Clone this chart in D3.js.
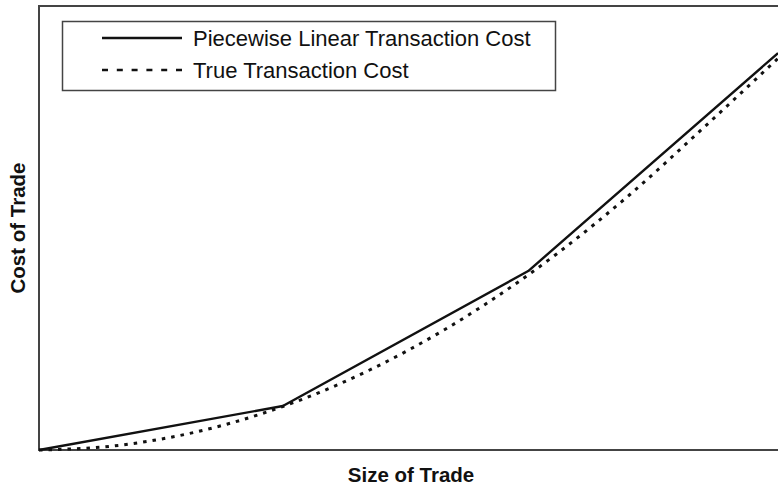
<!DOCTYPE html>
<html>
<head>
<meta charset="utf-8">
<script src="https://cdn.jsdelivr.net/npm/d3@7"></script>
<style>
  body { margin: 0; background: #fff; }
  svg { display: block; font-family: "Liberation Sans", Arial, sans-serif; }
</style>
</head>
<body>
<div id="chart"></div>
<script>
// Piecewise linear cost (kink points)
var linearSize = [0, 0.33, 0.662, 1.0];
var linearCost = [0, 0.099, 0.403, 0.894];

// True (convex) cost
var trueSize = [0, 0.1, 0.2, 0.3, 0.4, 0.5, 0.6, 0.7, 0.8, 0.9, 1.0];
var trueCost = [0, 0.009, 0.036, 0.081, 0.144, 0.225, 0.324, 0.441, 0.576, 0.727, 0.882];

var seriesNames = ["Piecewise Linear Transaction Cost", "True Transaction Cost"];

var width = 778, height = 485;
var plot = {left: 39, right: 778, top: 6, bottom: 450};

var svg = d3.select("#chart").append("svg")
    .attr("width", width)
    .attr("height", height);

var x = d3.scaleLinear().domain([0, 1]).range([plot.left, plot.right]);
var y = d3.scaleLinear().domain([0, 1]).range([plot.bottom, plot.top]);

// frame: left, top, bottom (right side runs off the picture)
var frameColor = "#444";
svg.append("path")
    .attr("d", "M" + plot.right + "," + plot.top + "H" + plot.left + "V" + plot.bottom + "H" + plot.right)
    .attr("fill", "none")
    .attr("stroke", frameColor)
    .attr("stroke-width", 2);

var line = d3.line()
    .x(function(d) { return x(d[0]); })
    .y(function(d) { return y(d[1]); });

var trueLine = d3.line()
    .x(function(d) { return x(d[0]); })
    .y(function(d) { return y(d[1]); })
    .curve(d3.curveMonotoneX);

// True transaction cost (dotted)
svg.append("path")
    .datum(d3.zip(trueSize, trueCost))
    .attr("d", trueLine)
    .attr("fill", "none")
    .attr("stroke", "#111")
    .attr("stroke-width", 3)
    .attr("stroke-dasharray", "3.5,6");

// Piecewise linear (solid)
svg.append("path")
    .datum(d3.zip(linearSize, linearCost))
    .attr("d", line)
    .attr("fill", "none")
    .attr("stroke", "#111")
    .attr("stroke-width", 2.4)
    .attr("stroke-linejoin", "round");

// Legend
var legend = svg.append("g");
legend.append("rect")
    .attr("x", 62.5).attr("y", 21.5)
    .attr("width", 493).attr("height", 69)
    .attr("fill", "#fff")
    .attr("stroke", frameColor)
    .attr("stroke-width", 1.5);

var legendY = [38, 70];
seriesNames.forEach(function(name, i) {
    legend.append("line")
        .attr("x1", 102).attr("x2", 182)
        .attr("y1", legendY[i]).attr("y2", legendY[i])
        .attr("stroke", "#111")
        .attr("stroke-width", i === 0 ? 2.4 : 2.6)
        .attr("stroke-dasharray", i === 0 ? null : "6,8.8");
    legend.append("text")
        .attr("x", 193).attr("y", legendY[i])
        .attr("dy", "0.36em")
        .attr("font-size", 22)
        .attr("fill", "#111")
        .text(name);
});

// Axis titles
svg.append("text")
    .attr("x", 411).attr("y", 482)
    .attr("text-anchor", "middle")
    .attr("font-size", 20.5)
    .attr("font-weight", "bold")
    .attr("fill", "#111")
    .text("Size of Trade");

svg.append("text")
    .attr("transform", "translate(25,228) rotate(-90)")
    .attr("text-anchor", "middle")
    .attr("font-size", 20.5)
    .attr("font-weight", "bold")
    .attr("fill", "#111")
    .text("Cost of Trade");
</script>
</body>
</html>
